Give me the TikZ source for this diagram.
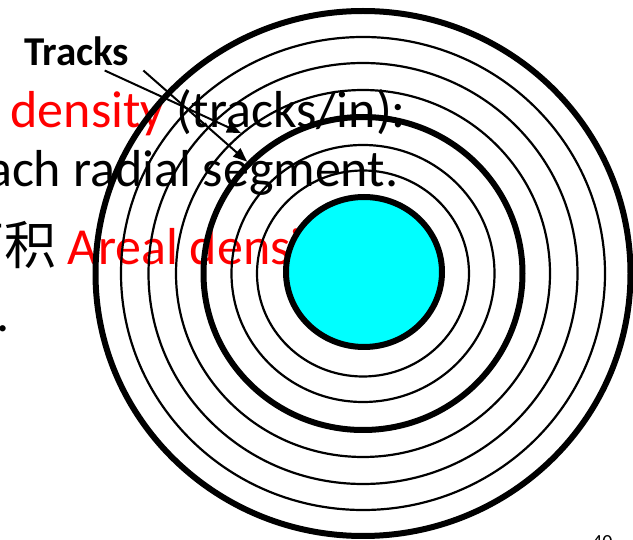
\documentclass[tikz,border=0pt]{standalone}
\usepackage{fontspec}
\setmainfont{Carlito}
\newfontfamily\cjk{Noto Sans CJK SC}
\usepackage{tikz}
\usetikzlibrary{arrows.meta,shapes.geometric}
\definecolor{hubcyan}{rgb}{0,1,1}
\definecolor{slidered}{rgb}{1,0,0}
\tikzset{
  linea/.style={
    anchor=base west,
    inner sep=0pt,
    font=\fontsize{52}{60}\selectfont
  },
  pista/.style={
    ellipse,
    draw=black,
    line width=2.2pt,
    inner sep=0pt
  },
  pistagruesa/.style={
    pista,
    line width=6pt
  },
  eje/.style={
    pistagruesa,
    fill=hubcyan
  },
  etiqueta/.style={
    anchor=base west,
    inner sep=0pt,
    font=\fontsize{41}{46}\selectfont\bfseries
  },
  arrow/.style={
    -{Triangle[length=14pt,width=11pt]},
    line width=2pt,
    black
  }
}

\begin{document}
\begin{tikzpicture}[x=1pt,y=-1pt]
\clip (0,0) rectangle (633,540);
% slide text behind the disk
\node[linea] (l1) at (10.5,128) {\textcolor{slidered}{density} (tracks/in):};
\node[linea] (l2) at (-39,187) {each radial segment.};
\node[linea] (l3) at (-48,265) {{\cjk 面积} \textcolor{slidered}{Areal density}};
\node[linea] (l4) at (-4,332) {.};
\node[anchor=base west,inner sep=0pt,font=\fontsize{20}{24}\selectfont] (pg) at (592,549) {40};
% tracks
\node[pistagruesa,minimum width=535pt,minimum height=525pt] (p1) at (363,273.5) {};
\node[pista,minimum width=484pt,minimum height=473pt] (p2) at (363,273.5) {};
\node[pista,minimum width=429pt,minimum height=421pt] (p3) at (363,273.5) {};
\node[pista,minimum width=374pt,minimum height=367pt] (p4) at (363,273.5) {};
\node[pistagruesa,minimum width=319pt,minimum height=313pt] (p5) at (363,273.5) {};
\node[pista,minimum width=263pt,minimum height=257pt] (p6) at (363,273.5) {};
\node[pista,minimum width=212pt,minimum height=206pt] (p7) at (363,273.5) {};
\node[eje,minimum width=156pt,minimum height=150pt] (h) at (364,272) {};
% label
\node[etiqueta] (trk) at (24,66) {Tracks};
\draw[arrow] ([xshift=28pt,yshift=-4pt]trk.south) -- (p4.131);
\draw[arrow] ([xshift=14pt,yshift=-4pt]trk.south east) -- (p5.136);
\end{tikzpicture}
\end{document}
